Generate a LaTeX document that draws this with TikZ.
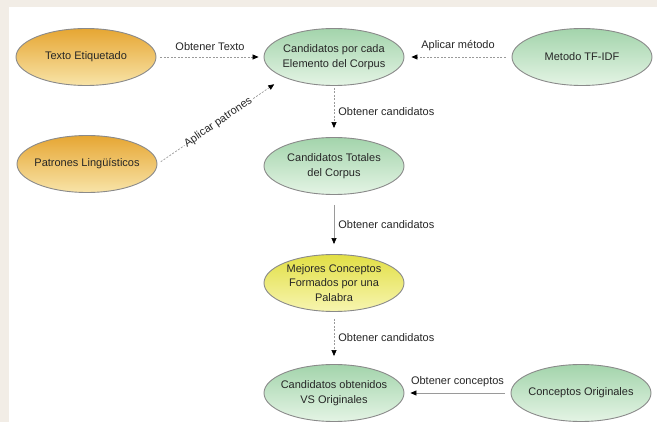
\documentclass[tikz,border=0pt]{standalone}
\usepackage{fontspec}
\setmainfont{Liberation Sans}
\usetikzlibrary{shapes.geometric,arrows.meta}
\definecolor{bgbeige}{HTML}{F2EDE6}
\definecolor{orTop}{HTML}{E6A633}
\definecolor{orBot}{HTML}{F8E4A8}
\definecolor{grTop}{HTML}{A3D4AC}
\definecolor{grBot}{HTML}{E4F4E4}
\definecolor{yeTop}{HTML}{E2DF45}
\definecolor{yeBot}{HTML}{F7F5B0}
\definecolor{edgegray}{HTML}{8A8A8A}
\definecolor{linegray}{HTML}{9A9A9A}
\begin{document}
\begin{tikzpicture}[x=1pt,y=-1pt,
  ell/.style={ellipse, draw=edgegray, line width=0.9pt, minimum width=140pt, minimum height=57pt,
    inner xsep=-14pt, inner ysep=-10pt, align=center, text=black!85, font=\fontsize{11}{14.5}\selectfont},
  orangeell/.style={ell, top color=orTop, bottom color=orBot},
  greenell/.style={ell, top color=grTop, bottom color=grBot},
  yellowell/.style={ell, top color=yeTop, bottom color=yeBot},
  lbl/.style={font=\fontsize{11}{13}\selectfont, text=black!85, inner sep=1pt},
  arr/.style={draw=linegray, line width=0.7pt, -{Triangle[length=6pt,width=5pt,color=black]}},
  dsh/.style={arr, dash pattern=on 2pt off 1.5pt}
]
\fill[bgbeige] (0,0) rectangle (657,422);
\fill[white] (9,7) rectangle (657,422);
\useasboundingbox (0,0) rectangle (657,422);

\node[orangeell] (texto) at (86,57) {Texto Etiquetado};
\node[greenell] (cada) at (334,57) {Candidatos por cada\\Elemento del Corpus};
\node[greenell] (metodo) at (582,57) {Metodo TF-IDF};
\node[orangeell] (patrones) at (87,164) {Patrones Lingüísticos};
\node[greenell] (totales) at (334,166) {Candidatos Totales\\del Corpus};
\node[yellowell] (mejores) at (334,283) {Mejores Conceptos\\Formados por una\\Palabra};
\node[greenell] (obtenidos) at (334,393) {Candidatos obtenidos\\VS Originales};
\node[greenell] (originales) at (581,393) {Conceptos Originales};

\draw[dsh, shorten <=4pt, shorten >=5pt] (texto.east) -- node[lbl, above=5pt] {Obtener Texto} (cada.west);
\draw[dsh, shorten <=6pt, shorten >=7pt] (metodo.west) -- node[lbl, above=5pt] {Aplicar método} (cada.east);
\draw[dsh, shorten <=4pt, shorten >=12pt] (patrones.east) -- node[lbl, pos=0.48, sloped, fill=white] {Aplicar patrones} (cada.south west);
\draw[dsh, shorten <=2pt, shorten >=9pt] (cada.south) -- node[lbl, right=3pt] {Obtener candidatos} (totales.north);
\draw[arr, shorten <=10pt, shorten >=10pt] (totales.south) -- node[lbl, right=3pt] {Obtener candidatos} (mejores.north);
\draw[dsh, shorten <=7pt, shorten >=8pt] (mejores.south) -- node[lbl, right=3pt] {Obtener candidatos} (obtenidos.north);
\draw[arr, shorten <=6pt, shorten >=6pt] (originales.west) -- node[lbl, above=5pt] {Obtener conceptos} (obtenidos.east);
\end{tikzpicture}
\end{document}
